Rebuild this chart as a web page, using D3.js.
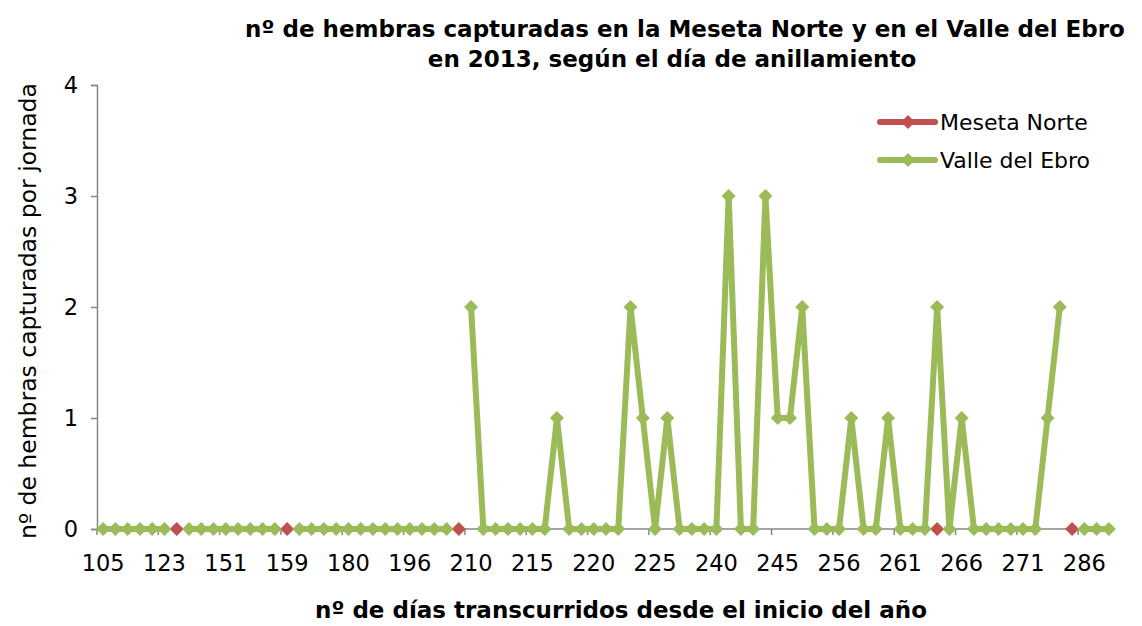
<!DOCTYPE html>
<html>
<head>
<meta charset="utf-8">
<script src="https://cdn.jsdelivr.net/npm/d3@7"></script>
<style>
  body { margin: 0; background: #fff; }
  text { font-family: "DejaVu Sans", Verdana, sans-serif; fill: #000; }
</style>
</head>
<body>
<svg id="chart" width="1142" height="626"></svg>
<script>
// category labels shown on the axis (every 5th category)
const tickLabels = ["105","123","151","159","180","196","210","215","220","225","240","245","256","261","266","271","286"]
const labelStep = 5
const nCategories = 83

// females captured per session (null = no session)
const meseta = [
  null,null,null,null,null,null,0,null,null,null,
  null,null,null,null,null,0,null,null,null,null,
  null,null,null,null,null,null,null,null,null,0,
  null,null,null,null,null,null,null,null,null,null,
  null,null,null,null,null,null,null,null,null,null,
  null,null,null,null,null,null,null,null,null,null,
  null,null,null,null,null,null,null,null,0,null,
  null,null,null,null,null,null,null,null,null,0,
  null,null,null
]
const valle = [
  0,0,0,0,0,0,null,0,0,0,
  0,0,0,0,0,null,0,0,0,0,
  0,0,0,0,0,0,0,0,0,null,
  2,0,0,0,0,0,0,1,0,0,
  0,0,0,2,1,0,1,0,0,0,
  0,3,0,0,3,1,1,2,0,0,
  0,1,0,0,1,0,0,0,2,0,
  1,0,0,0,0,0,0,1,2,null,
  0,0,0
]
const seriesNames = ["Meseta Norte","Valle del Ebro"]
const seriesColors = ["#C0504D","#9BBB59"]
const yTicks = [0,1,2,3,4]

const svg = d3.select("#chart")
const mLeft = 97, mRight = 1115, mTop = 85, mBottom = 529
const font = "DejaVu Sans, Verdana, sans-serif"

let xScale = d3.scaleBand().domain(d3.range(nCategories)).range([mLeft, mRight])
let yScale = d3.scaleLinear().domain([0, 4]).range([mBottom, mTop])
const cx = i => xScale(i) + xScale.bandwidth() / 2

// Title
const title = svg.append("g").attr("font-weight", "bold").attr("font-size", "23px")
title.append("text").attr("x", 685).attr("y", 37).attr("text-anchor", "middle")
    .text("nº de hembras capturadas en la Meseta Norte y en el Valle del Ebro")
title.append("text").attr("x", 672).attr("y", 67).attr("text-anchor", "middle")
    .text("en 2013, según el día de anillamiento")

// Y axis
let y_axis = d3.axisLeft(yScale).tickValues(yTicks).tickSize(6).tickPadding(13).tickFormat(d3.format("d"))
let gy = svg.append("g").attr("transform", `translate(${mLeft},0)`).call(y_axis)
gy.select(".domain").attr("stroke", "#868686").attr("stroke-width", 1.5)
gy.selectAll(".tick line").attr("stroke", "#868686").attr("stroke-width", 1.5)
gy.selectAll(".tick text").attr("font-size", "22.5px").attr("font-family", font)

// X axis: labels centred on categories, tick marks between groups
const labelIdx = tickLabels.map((d, i) => i * labelStep)
let x_axis = d3.axisBottom(xScale).tickValues(labelIdx).tickSize(0).tickPadding(26)
    .tickFormat((d, i) => tickLabels[i])
let gx = svg.append("g").attr("transform", `translate(0,${mBottom})`).call(x_axis)
gx.select(".domain").remove()
gx.selectAll(".tick text").attr("font-size", "22.5px").attr("font-family", font)
svg.append("line").attr("x1", mLeft).attr("x2", mRight).attr("y1", mBottom).attr("y2", mBottom)
    .attr("stroke", "#868686").attr("stroke-width", 1.5)
svg.append("g").selectAll("line")
    .data(labelIdx)
    .enter().append("line")
    .attr("x1", d => xScale(d)).attr("x2", d => xScale(d))
    .attr("y1", mBottom).attr("y2", mBottom + 6)
    .attr("stroke", "#868686").attr("stroke-width", 1.5)

// Axis titles
svg.append("text").attr("x", 621).attr("y", 618).attr("text-anchor", "middle")
    .attr("font-weight", "bold").attr("font-size", "23px")
    .text("nº de días transcurridos desde el inicio del año")
svg.append("text").attr("transform", `translate(36,${311}) rotate(-90)`).attr("text-anchor", "middle")
    .attr("font-size", "23.5px")
    .text("nº de hembras capturadas por jornada")

// Series
const diamond = d3.symbol().type(d3.symbolDiamond2).size(125)
;[meseta, valle].forEach(function (data, s) {
    let line = d3.line().defined(d => d != null).x((d, i) => cx(i)).y(d => yScale(d))
    svg.append("path").datum(data)
        .attr("fill", "none").attr("stroke", seriesColors[s]).attr("stroke-width", 6)
        .attr("stroke-linejoin", "round")
        .attr("d", line)
    svg.append("g").selectAll("path")
        .data(data.map((d, i) => [d, i]).filter(p => p[0] != null))
        .enter().append("path")
        .attr("transform", p => `translate(${cx(p[1])},${yScale(p[0])})`)
        .attr("d", diamond)
        .attr("fill", seriesColors[s])
})

// Legend
seriesNames.forEach(function (d, i) {
    let lgnd = svg.append("g").attr("transform", `translate(880,${122 + i * 38})`)
    lgnd.append("line").attr("x1", 0).attr("x2", 55).attr("y1", 0).attr("y2", 0)
        .attr("stroke", seriesColors[i]).attr("stroke-width", 6).attr("stroke-linecap", "round")
    lgnd.append("path").attr("transform", "translate(28,0)").attr("d", diamond).attr("fill", seriesColors[i])
    lgnd.append("text").attr("x", 60).attr("y", 8).attr("font-size", "22px").text(d)
})
</script>
</body>
</html>
